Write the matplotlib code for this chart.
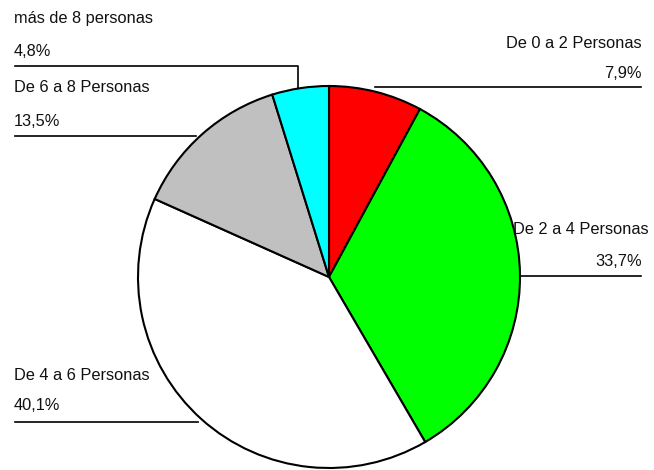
import matplotlib
matplotlib.use("Agg")
import matplotlib.pyplot as plt

categories = ["De 0 a 2 Personas", "De 2 a 4 Personas", "De 4 a 6 Personas",
              "De 6 a 8 Personas", "más de 8 personas"]
values = [7.9, 33.7, 40.1, 13.5, 4.8]
pct_labels = ["7,9%", "33,7%", "40,1%", "13,5%", "4,8%"]
colors = ["#ff0000", "#00ff00", "#ffffff", "#c0c0c0", "#00ffff"]

W, H = 654, 470
fig = plt.figure(figsize=(W / 100, H / 100), dpi=100)
ax = fig.add_axes([0, 0, 1, 1])
ax.set_xlim(0, W)
ax.set_ylim(0, H)
ax.set_aspect("equal")
ax.axis("off")

cx, cy, r = 329, H - 277, 191
ax.pie(values, colors=colors, startangle=90, counterclock=False,
       center=(cx, cy), radius=r, frame=True,
       wedgeprops=dict(edgecolor="black", linewidth=1.5))
ax.set_xlim(0, W)
ax.set_ylim(0, H)
ax.axis("off")

fs = 11.8
fam = ["Liberation Sans", "DejaVu Sans"]
tc = "#111111"

def Y(y):
    return H - y

# 0: De 0 a 2
ax.text(642, Y(44), categories[0], ha="right", va="center", fontsize=fs, family=fam, color=tc)
ax.text(642, Y(74), pct_labels[0], ha="right", va="center", fontsize=fs, family=fam, color=tc)
ax.plot([375, 641], [Y(87), Y(87)], color="black", lw=1.2)
# 1: De 2 a 4
ax.text(649, Y(229), categories[1], ha="right", va="center", fontsize=fs, family=fam, color=tc)
ax.text(642, Y(262), pct_labels[1], ha="right", va="center", fontsize=fs, family=fam, color=tc)
ax.plot([520, 641], [Y(276), Y(276)], color="black", lw=1.2)
# 2: De 4 a 6
ax.text(14, Y(375), categories[2], ha="left", va="center", fontsize=fs, family=fam, color=tc)
ax.text(14, Y(405), pct_labels[2], ha="left", va="center", fontsize=fs, family=fam, color=tc)
ax.plot([15, 198], [Y(422), Y(422)], color="black", lw=1.2)
# 3: De 6 a 8
ax.text(14, Y(88), categories[3], ha="left", va="center", fontsize=fs, family=fam, color=tc)
ax.text(14, Y(121), pct_labels[3], ha="left", va="center", fontsize=fs, family=fam, color=tc)
ax.plot([15, 196], [Y(136), Y(136)], color="black", lw=1.2)
# 4: más de 8
ax.text(14, Y(18), categories[4], ha="left", va="center", fontsize=fs, family=fam, color=tc)
ax.text(14, Y(52), pct_labels[4], ha="left", va="center", fontsize=fs, family=fam, color=tc)
ax.plot([15, 298, 298], [Y(66), Y(66), Y(88)], color="black", lw=1.2)

fig.savefig("out.png", dpi=100, facecolor="white")
